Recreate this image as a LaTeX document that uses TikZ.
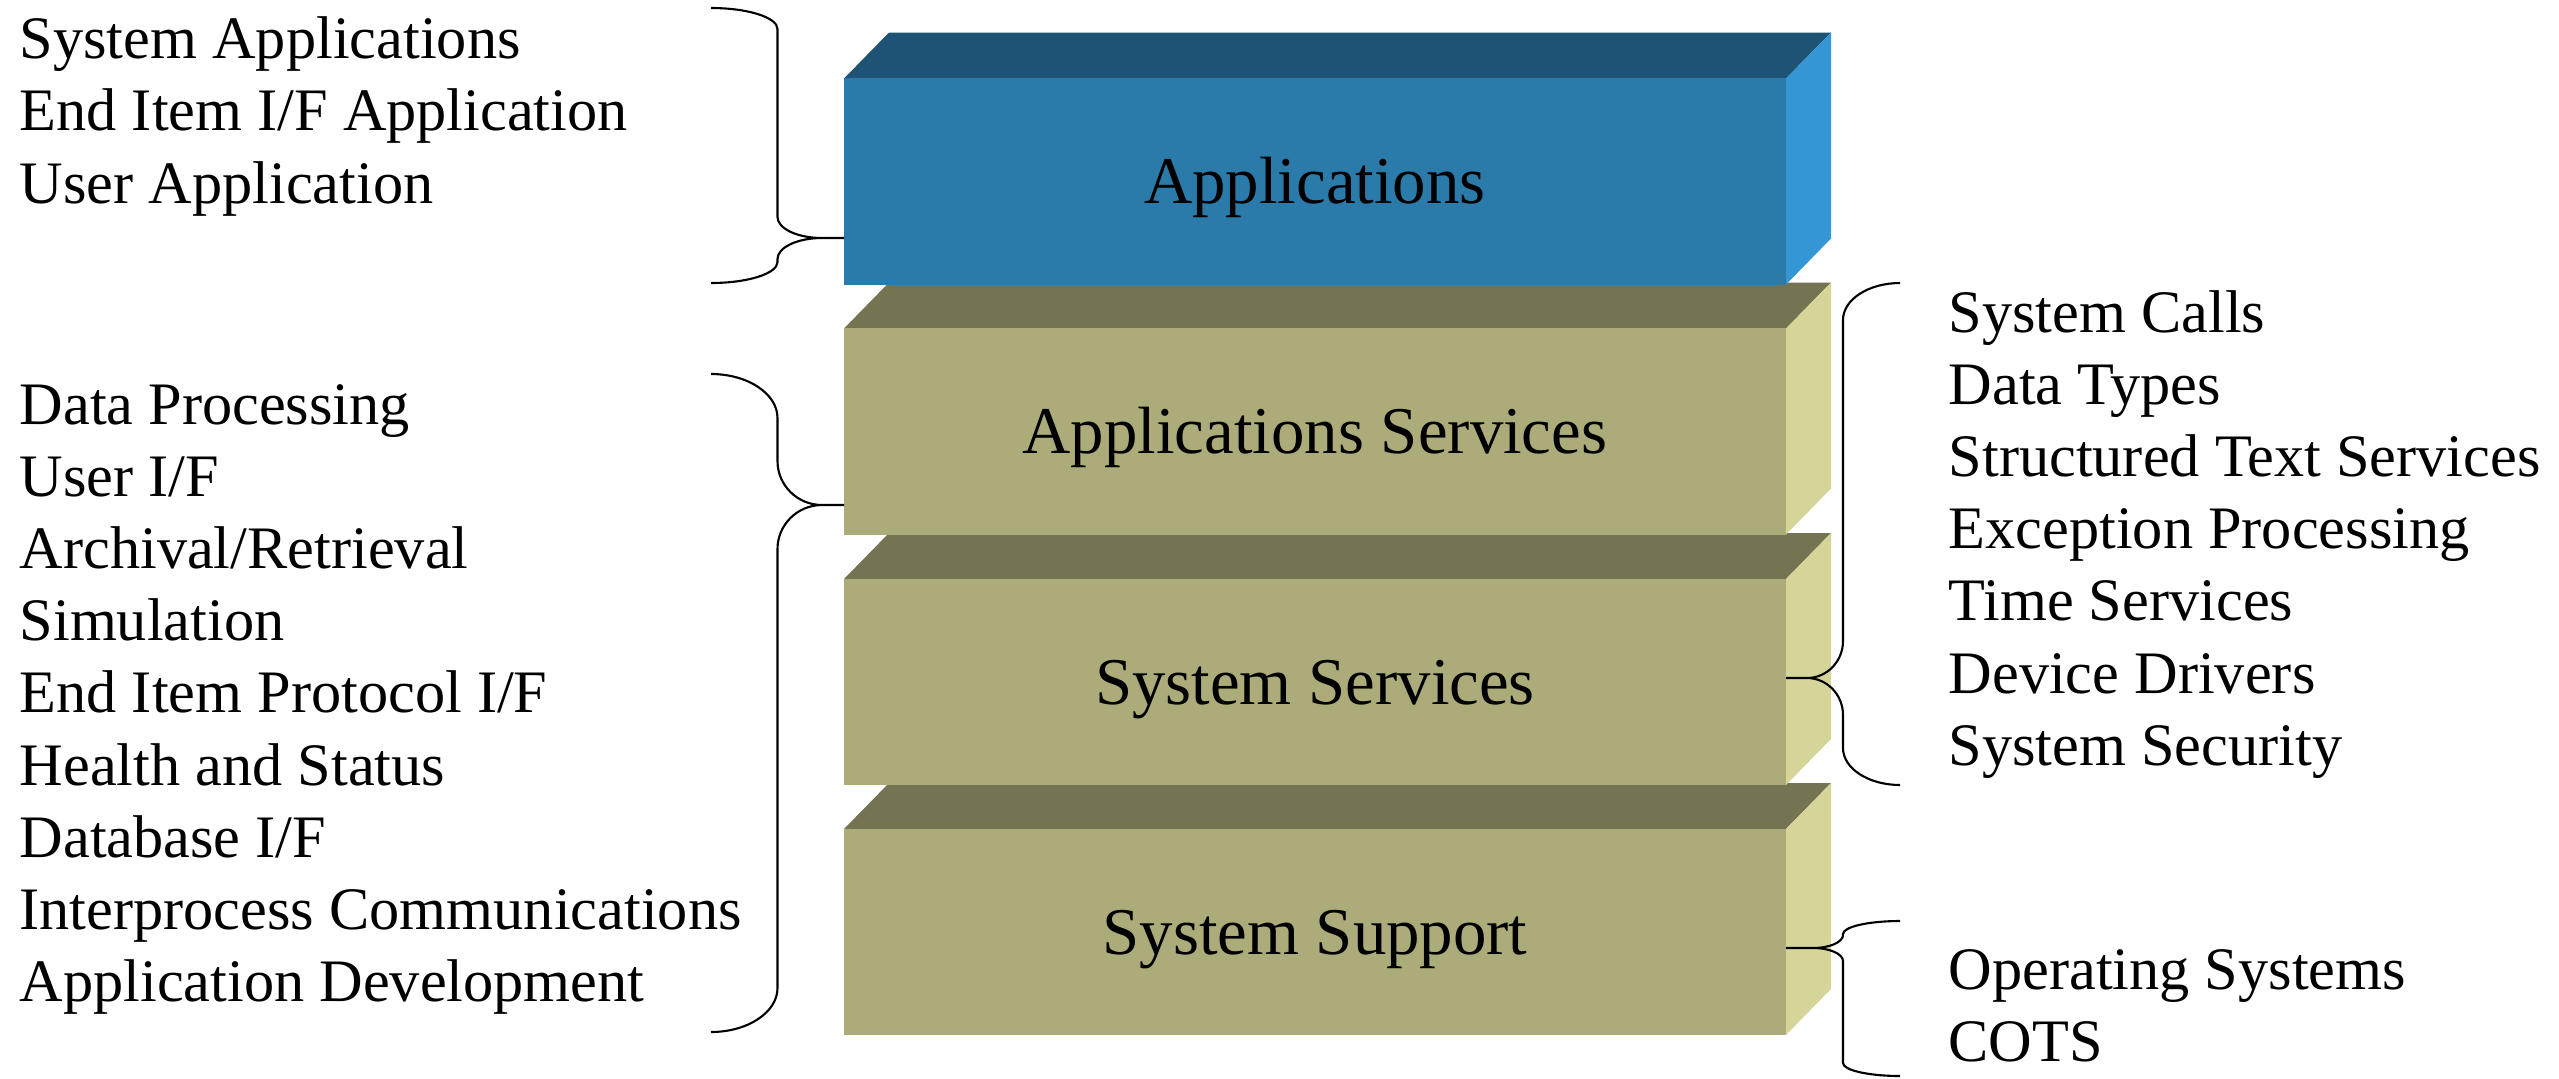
\documentclass[tikz,border=0pt]{standalone}
\usepackage{fontspec}
\setmainfont{Liberation Serif}
\usetikzlibrary{calc}

\definecolor{blueFront}{HTML}{2A7AAA}
\definecolor{blueTop}{HTML}{1F5375}
\definecolor{blueSide}{HTML}{3596D5}
\definecolor{oliveFront}{HTML}{ACAC7B}
\definecolor{oliveTop}{HTML}{747452}
\definecolor{oliveSide}{HTML}{D5D59A}

\tikzset{
  layerface/.style={draw=none, inner sep=0pt, minimum width=9.42cm, minimum height=2.06cm,
    text height=0.44cm, text depth=0pt, font=\fontsize{19}{23}\selectfont},
  listtext/.style={anchor=base west, inner sep=0pt, font=\fontsize{17.15}{20.6}\selectfont},
  braceline/.style={draw=black, line width=0.6pt},
}

% Oblique 3-D slab: front face is a named node, top and side faces hang off its anchors
\newcommand{\slab}[6]{% #1 name, #2 centre y, #3 front, #4 top, #5 side, #6 label
  \fill[#4] (844,#2-103) -- ++(45,-46) -- ++(942,0) -- (1786,#2-103) -- cycle;
  \fill[#5] (1786,#2-103) -- ++(45,-46) -- ++(0,206) -- (1786,#2+103) -- cycle;
  \node[layerface, fill=#3] (#1) at (1315,#2) {#6};
}

% Curly brace: open ends at x=#1, tip at x=#2, tip curls end at x=#3,
% top y=#4, tip y=#5, bottom y=#6, curl radius #7
\newcommand{\curlybrace}[7]{%
  \pgfmathsetmacro\bxm{(#1+#2)/2}
  \pgfmathsetmacro\bka{#1+0.5523*(\bxm-#1)}
  \pgfmathsetmacro\bkb{#3-0.5523*(#3-\bxm)}
  \draw[braceline]
    (#1,#4) .. controls (\bka,#4) and (\bxm,#4+0.4477*#7) .. (\bxm,#4+#7)
    -- (\bxm,#5-#7) .. controls (\bxm,#5-0.4477*#7) and (\bkb,#5) .. (#3,#5) -- (#2,#5)
    (#3,#5) .. controls (\bkb,#5) and (\bxm,#5+0.4477*#7) .. (\bxm,#5+#7)
    -- (\bxm,#6-#7) .. controls (\bxm,#6-0.4477*#7) and (\bka,#6) .. (#1,#6);
}

\begin{document}
\begin{tikzpicture}[x=0.01cm, y=-0.01cm]
\useasboundingbox (0,0) rectangle (2559,1078);

% layers, lowest first so each upper slab overlaps the one beneath
\slab{support}{932}{oliveFront}{oliveTop}{oliveSide}{System Support}
\slab{sysserv}{682}{oliveFront}{oliveTop}{oliveSide}{System Services}
\slab{appserv}{431.5}{oliveFront}{oliveTop}{oliveSide}{Applications Services}
\slab{apps}{181.5}{blueFront}{blueTop}{blueSide}{Applications}

% braces
\curlybrace{711}{844}{822}{8}{238}{283}{21}
\curlybrace{711}{844}{822}{374}{505}{1032}{44}
\curlybrace{1900}{1786}{1807}{283}{678}{785}{37}
\curlybrace{1900}{1786}{1813}{921}{948}{1076}{13}

% item lists
\foreach \t [count=\i from 0] in {System Applications, End Item I/F Application, User Application}
  \node[listtext] (tl\i) at (19, 58+72.8*\i) {\t};
\foreach \t [count=\i from 0] in {Data Processing, User I/F, Archival/Retrieval, Simulation,
    End Item Protocol I/F, Health and Status, Database I/F, Interprocess Communications,
    Application Development}
  \node[listtext] (ll\i) at (19, 424+72.2*\i) {\t};
\foreach \t [count=\i from 0] in {System Calls, Data Types, Structured Text Services,
    Exception Processing, Time Services, Device Drivers, System Security}
  \node[listtext] (rl\i) at (1948, 332+72.2*\i) {\t};
\foreach \t [count=\i from 0] in {Operating Systems, COTS}
  \node[listtext] (os\i) at (1948, 989+72*\i) {\t};
\end{tikzpicture}
\end{document}
